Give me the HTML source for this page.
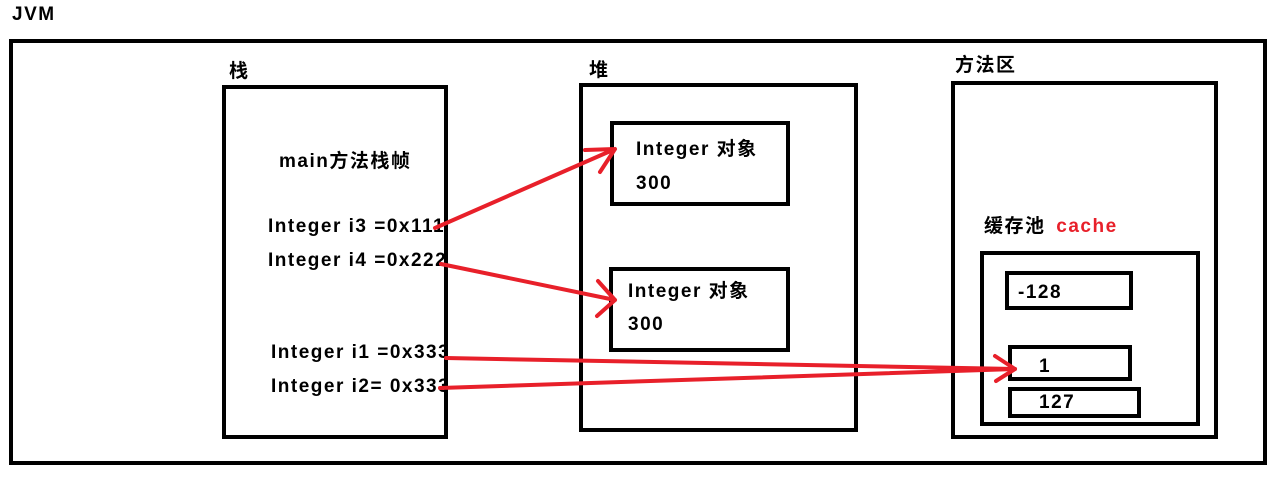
<!DOCTYPE html>
<html><head><meta charset="utf-8"><style>
body{margin:0;width:1279px;height:481px;background:#fff;position:relative;overflow:hidden;font-family:"Liberation Sans","Noto Sans CJK SC",sans-serif;font-weight:bold;font-size:19px;letter-spacing:1.5px;color:#000}
.b{position:absolute;border:4px solid #000;box-sizing:border-box}
.t{position:absolute;white-space:nowrap;line-height:22px}
svg{position:absolute;left:0;top:0}
</style></head><body>
<div class="t" style="left:12px;top:4px">JVM</div>
<div class="b" style="left:9px;top:39px;width:1258px;height:426px"></div>
<div class="t" style="left:229px;top:61px">栈</div>
<div class="b" style="left:222px;top:85px;width:226px;height:354px"></div>
<div class="t" style="left:279px;top:151px">main方法栈帧</div>
<div class="t" style="left:268px;top:216px">Integer i3 =0x111</div>
<div class="t" style="left:268px;top:250px">Integer i4 =0x222</div>
<div class="t" style="left:271px;top:342px">Integer i1 =0x333</div>
<div class="t" style="left:271px;top:376px">Integer i2= 0x333</div>
<div class="t" style="left:589px;top:60px">堆</div>
<div class="b" style="left:579px;top:83px;width:279px;height:349px"></div>
<div class="b" style="left:610px;top:121px;width:180px;height:85px"></div>
<div class="t" style="left:636px;top:139px">Integer 对象</div>
<div class="t" style="left:636px;top:173px">300</div>
<div class="b" style="left:609px;top:267px;width:181px;height:85px"></div>
<div class="t" style="left:628px;top:281px">Integer 对象</div>
<div class="t" style="left:628px;top:314px">300</div>
<div class="t" style="left:955px;top:55px">方法区</div>
<div class="b" style="left:951px;top:81px;width:267px;height:358px"></div>
<div class="t" style="left:984px;top:216px">缓存池 <span style="color:#e8202a;margin-left:4px">cache</span></div>
<div class="b" style="left:980px;top:251px;width:220px;height:175px"></div>
<div class="b" style="left:1005px;top:271px;width:128px;height:39px"></div>
<div class="t" style="left:1018px;top:282px">-128</div>
<div class="b" style="left:1008px;top:345px;width:124px;height:36px"></div>
<div class="t" style="left:1039px;top:356px">1</div>
<div class="b" style="left:1008px;top:387px;width:133px;height:31px"></div>
<div class="t" style="left:1039px;top:392px">127</div>
<svg width="1279" height="481" fill="none" stroke="#e8202a" stroke-width="4" stroke-linecap="round" stroke-linejoin="round">
<path d="M435 228 L615 149 M585 150 L615 149 L600 172"/>
<path d="M441 264 L615 300 M598 281 L615 300 L597 316"/>
<path d="M446 358 L1015 369 M995 356 L1015 369 L996 381"/>
<path d="M440 388 L1015 369"/>
</svg>
</body></html>
